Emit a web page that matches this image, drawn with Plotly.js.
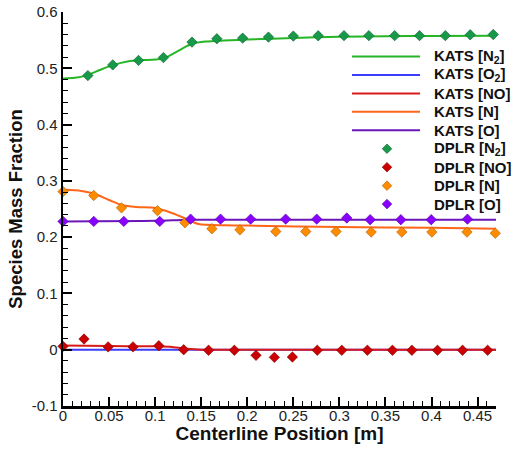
<!DOCTYPE html>
<html>
<head>
<meta charset="utf-8">
<script src="https://cdn.plot.ly/plotly-3.0.1.min.js"></script>
<style>
  html, body { margin: 0; padding: 0; background: #fff; }
  #chart { width: 516px; height: 450px; }
</style>
</head>
<body>
<div id="chart"></div>
<script>
// KATS solution along the centerline (continuous curves)
const katsX_N2 = [0, 0.013, 0.025, 0.04, 0.055, 0.07, 0.085, 0.1, 0.11, 0.125, 0.14, 0.155, 0.175, 0.2, 0.25, 0.3, 0.35, 0.4, 0.47];
const katsN2   = [0.482, 0.483, 0.487, 0.497, 0.506, 0.512, 0.5145, 0.5155, 0.518, 0.531, 0.5435, 0.5476, 0.5494, 0.551, 0.554, 0.556, 0.557, 0.5575, 0.558];

const katsX_O2 = [0, 0.47];
const katsO2   = [0, 0];

const katsX_NO = [0, 0.05, 0.1, 0.12, 0.135, 0.15, 0.2, 0.47];
const katsNO   = [0.0077, 0.0065, 0.006, 0.0045, 0.0015, 0.0, 0.0, 0.0];

const katsX_N = [0, 0.02, 0.034, 0.05, 0.064, 0.08, 0.1, 0.118, 0.136, 0.147, 0.176, 0.2, 0.3, 0.4, 0.47];
const katsN   = [0.284, 0.282, 0.277, 0.266, 0.257, 0.2535, 0.2517, 0.243, 0.231, 0.2232, 0.221, 0.2205, 0.218, 0.2165, 0.215];

const katsX_O = [0, 0.1, 0.13, 0.15, 0.2, 0.47];
const katsO   = [0.228, 0.229, 0.2305, 0.231, 0.231, 0.231];

// DPLR solution (discrete points)
const dplrX_N2 = [0.027, 0.054, 0.082, 0.109, 0.140, 0.167, 0.195, 0.223, 0.25, 0.277, 0.305, 0.332, 0.36, 0.387, 0.415, 0.442, 0.467];
const dplrN2   = [0.487, 0.506, 0.514, 0.519, 0.5465, 0.5524, 0.5536, 0.5554, 0.5572, 0.5577, 0.558, 0.558, 0.558, 0.558, 0.558, 0.5595, 0.56];

const dplrX_NO = [0, 0.0228, 0.049, 0.076, 0.104, 0.131, 0.158, 0.186, 0.2095, 0.2294, 0.249, 0.276, 0.3026, 0.3304, 0.3576, 0.3787, 0.4065, 0.4337, 0.4609];
const dplrNO   = [0.006, 0.019, 0.005, 0.005, 0.007, 0.0, -0.001, -0.001, -0.010, -0.0136, -0.013, -0.001, -0.001, -0.001, -0.001, -0.001, -0.001, -0.001, -0.001];

const dplrX_N = [0, 0.0334, 0.0635, 0.1026, 0.1323, 0.1616, 0.192, 0.231, 0.2635, 0.2964, 0.3345, 0.3678, 0.4004, 0.4385, 0.4692];
const dplrN   = [0.281, 0.274, 0.252, 0.247, 0.2256, 0.215, 0.213, 0.210, 0.210, 0.210, 0.209, 0.209, 0.209, 0.209, 0.207];

const dplrX_O = [0, 0.0334, 0.066, 0.105, 0.1385, 0.171, 0.2037, 0.2417, 0.2754, 0.308, 0.3334, 0.3667, 0.3997, 0.439];
const dplrO   = [0.228, 0.228, 0.228, 0.228, 0.232, 0.232, 0.232, 0.232, 0.232, 0.234, 0.231, 0.231, 0.231, 0.232];

// Axis ticks
const xTickVals = [0, 0.05, 0.1, 0.15, 0.2, 0.25, 0.3, 0.35, 0.4, 0.45];
const xTickText = ['0', '0.05', '0.1', '0.15', '0.2', '0.25', '0.3', '0.35', '0.4', '0.45'];
const yTickVals = [-0.1, 0, 0.1, 0.2, 0.3, 0.4, 0.5, 0.6];
const yTickText = ['-0.1', '0', '0.1', '0.2', '0.3', '0.4', '0.5', '0.6'];

// Series styling
const katsNames  = ['KATS [N<sub>2</sub>]', 'KATS [O<sub>2</sub>]', 'KATS [NO]', 'KATS [N]', 'KATS [O]'];
const katsColors = ['#26b526', '#3c3cff', '#d91a1a', '#ff6619', '#6a16b8'];
const dplrNames  = ['DPLR [N<sub>2</sub>]', 'DPLR [NO]', 'DPLR [N]', 'DPLR [O]'];
const dplrColors = ['#17994a', '#cc0000', '#ff8c00', '#8a00ff'];
const dplrEdges  = ['#0c5a2a', '#7a0000', '#a85a00', '#50009a'];

function line(x, y, i) {
  return { x, y, name: katsNames[i], type: 'scatter', mode: 'lines',
           line: { color: katsColors[i], width: 2, shape: 'spline', smoothing: 0.8 } };
}
function pts(x, y, i) {
  return { x, y, name: dplrNames[i], type: 'scatter', mode: 'markers', cliponaxis: false,
           marker: { symbol: 'diamond', size: 8, color: dplrColors[i], line: { color: dplrEdges[i], width: 0.6 } } };
}

const traces = [
  line(katsX_N2, katsN2, 0),
  line(katsX_O2, katsO2, 1),
  line(katsX_NO, katsNO, 2),
  line(katsX_N,  katsN,  3),
  line(katsX_O,  katsO,  4),
  pts(dplrX_N2, dplrN2, 0),
  pts(dplrX_NO, dplrNO, 1),
  pts(dplrX_N,  dplrN,  2),
  pts(dplrX_O,  dplrO,  3)
];

// Key box: a compact legend built from shapes and annotations (paper coordinates)
const W = 516, H = 450, M = { l: 63, r: 20, t: 12, b: 44 };
const PW = W - M.l - M.r, PH = H - M.t - M.b;
const px = v => (v - M.l) / PW;
const py = v => (H - M.b - v) / PH;

const keyTop = 56.5, keyStep = 18.45;
const keyLineX0 = 352, keyLineX1 = 420, keyMarkX = 387, keyTextX = 432;
const shapes = [], annotations = [];
const keyEntries = katsNames.map((n, i) => ({ name: n, color: katsColors[i], kind: 'line' }))
  .concat(dplrNames.map((n, i) => ({ name: n, color: dplrColors[i], edge: dplrEdges[i], kind: 'mark' })));
keyEntries.forEach((e, i) => {
  const yc = keyTop + i * keyStep;
  if (e.kind === 'line') {
    shapes.push({ type: 'line', xref: 'paper', yref: 'paper', layer: 'above',
      x0: px(keyLineX0), x1: px(keyLineX1), y0: py(yc), y1: py(yc),
      line: { color: e.color, width: 2 } });
  } else {
    const r = 4.8;
    const d = `M${px(keyMarkX - r)},${py(yc)} L${px(keyMarkX)},${py(yc - r)} L${px(keyMarkX + r)},${py(yc)} L${px(keyMarkX)},${py(yc + r)} Z`;
    shapes.push({ type: 'path', xref: 'paper', yref: 'paper', layer: 'above', path: d,
      fillcolor: e.color, line: { color: e.edge, width: 0.6 } });
  }
  annotations.push({ xref: 'paper', yref: 'paper', x: px(keyTextX), y: py(yc),
    xanchor: 'left', yanchor: 'middle', showarrow: false, text: e.name,
    font: { family: 'Liberation Sans, Arial, sans-serif', size: 15, color: '#111', weight: 'bold' } });
});

const layout = {
  width: W, height: H,
  margin: M,
  paper_bgcolor: '#fff', plot_bgcolor: '#fff',
  font: { family: 'Liberation Sans, Arial, sans-serif', color: '#222', size: 15 },
  showlegend: false,
  shapes, annotations,
  xaxis: {
    range: [0, 0.47], tickmode: 'array', tickvals: xTickVals, ticktext: xTickText,
    showgrid: false, zeroline: false, showline: true, linecolor: '#000', linewidth: 2.5,
    ticks: 'inside', ticklen: 9, tickwidth: 2, tickcolor: '#000', ticklabelstandoff: -6,
    minor: { tickmode: 'linear', tick0: 0, dtick: 0.01, ticks: 'inside', ticklen: 5, tickwidth: 1, tickcolor: '#000' },
    tickfont: { size: 15, color: '#222' },
    title: { text: 'Centerline Position [m]', standoff: 0,
             font: { size: 19, color: '#111', weight: 'bold' } }
  },
  yaxis: {
    range: [-0.1, 0.6], tickmode: 'array', tickvals: yTickVals, ticktext: yTickText,
    showgrid: false, zeroline: false, showline: true, linecolor: '#000', linewidth: 2.5,
    ticks: 'inside', ticklen: 9, tickwidth: 2, tickcolor: '#000',
    minor: { tickmode: 'linear', tick0: 0, dtick: 0.02, ticks: 'inside', ticklen: 5, tickwidth: 1, tickcolor: '#000' },
    tickfont: { size: 15, color: '#222' },
    title: { text: 'Species Mass Fraction', standoff: 4,
             font: { size: 18.5, color: '#111', weight: 'bold' } }
  }
};

Plotly.newPlot('chart', traces, layout, { displayModeBar: false, staticPlot: true });
</script>
</body>
</html>
